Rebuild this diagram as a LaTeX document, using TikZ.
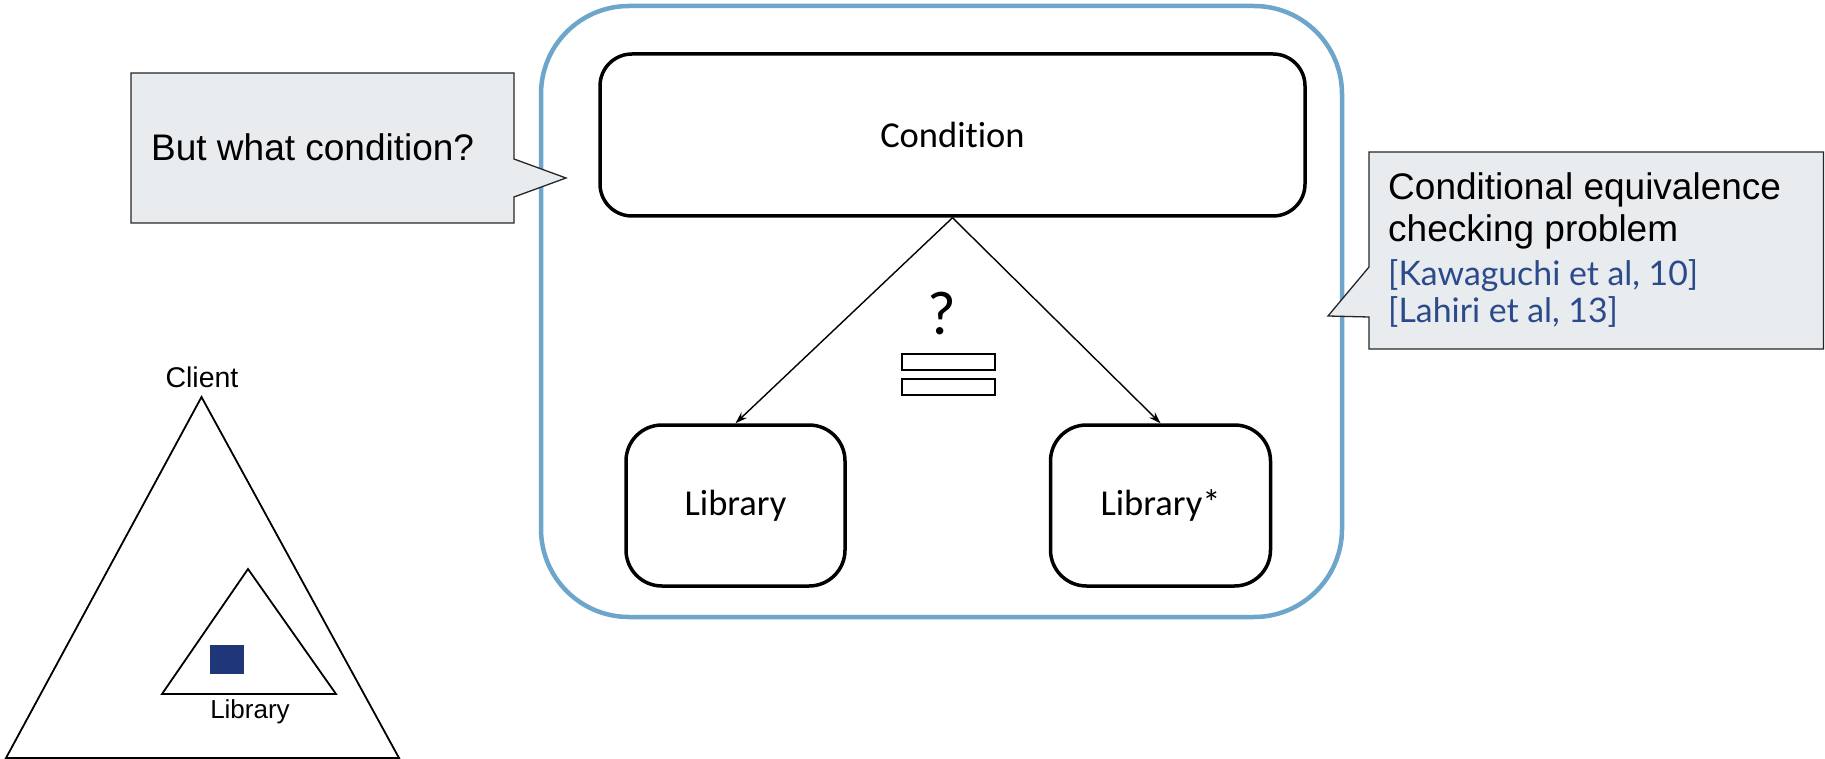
\documentclass[tikz,border=0pt]{standalone}
\usepackage{fontspec}
\setmainfont{Liberation Sans}
\newfontfamily\calib[Ligatures={NoCommon,NoContextual}]{Carlito}
\newfontfamily\latofam{Lato}
\usetikzlibrary{arrows.meta}
\definecolor{frameblue}{HTML}{6DA5CB}
\definecolor{calloutfill}{HTML}{E9ECEE}
\definecolor{citeblue}{HTML}{2B4A8C}
\definecolor{navy}{HTML}{1F3778}
\newlength\citewidth
\begin{document}
% size the reference lines so the first one spans 310pt
\settowidth\citewidth{\latofam\fontsize{10}{12}\selectfont [Kawaguchi et al, 10]}
\pgfmathsetmacro\citesize{10*310/\citewidth}
\begin{tikzpicture}[x=1pt,y=-1pt,
  box/.style={draw=black, line width=3.5pt, fill=white, inner sep=0pt,
    font=\calib\fontsize{36.5}{44}\selectfont},
  callout/.style={draw=black!85, line width=1.3pt, fill=calloutfill, line join=miter},
  sans/.style={inner sep=0pt, font=\fontsize{37}{44}\selectfont},
  cite/.style={inner sep=0pt, text=citeblue, font=\latofam\fontsize{\citesize}{36}\selectfont},
  flow/.style={line width=1.4pt, -{Stealth[length=12pt,width=8pt]}},
  bar/.style={draw=black, line width=2pt, fill=white, inner sep=0pt,
    minimum width=93pt, minimum height=16pt},
  tri/.style={draw=black, line width=1.8pt, line join=miter}
]
\useasboundingbox (0,0) rectangle (1825,759);

% outer frame
\node[draw=frameblue, line width=4.5pt, rounded corners=88pt, inner sep=0pt,
  minimum width=801pt, minimum height=611pt] (frame) at (941.5,311.5) {};

% condition and the two library versions
\node[box, rounded corners=32pt, minimum width=705pt, minimum height=162pt]
  (cond) at (952.5,135) {Condition};
\node[box, rounded corners=36pt, minimum width=219pt, minimum height=161pt]
  (lib) at (735.5,505.5) {Library};
\node[box, rounded corners=36pt, minimum width=220pt, minimum height=161pt]
  (libstar) at (1160.5,505.5) {Library*};

\draw[flow] (cond.south) -- (lib.north);
\draw[flow] (cond.south) -- (libstar.north);

% question mark over an equals sign
\node[inner sep=0pt, font=\calib\fontsize{62}{70}\selectfont] (q) at (942,314) {?};
\node[bar] (eqtop) at (948,361.5) {};
\node[bar] (eqbot) at (948,386.5) {};

% left callout
\draw[callout] (131,73) -- (514,73) -- (514,159) -- (566,178) -- (514,197)
  -- (514,223) -- (131,223) -- cycle;
\node[sans, anchor=base west] (ask) at (151,161) {But what condition?};

% right callout
\draw[callout] (1369,152) -- (1823.5,152) -- (1823.5,349) -- (1369,349)
  -- (1369,317) -- (1328,316) -- (1369,267) -- cycle;
\node[sans, anchor=base west] (ce1) at (1388,200) {Conditional equivalence};
\node[sans, anchor=base west] (ce2) at (1388,242) {checking problem};
\node[cite, anchor=base west] (ref1) at (1388,285) {[Kawaguchi et al, 10]};
\node[cite, anchor=base west] (ref2) at (1388,322) {[Lahiri et al, 13]};

% client / library triangles
\draw[tri] (201.5,397) -- (399,758) -- (6,758) -- cycle;
\draw[tri] (248,569) -- (336,694) -- (162,694) -- cycle;
\fill[navy] (210,645) rectangle (244,674);
\node[inner sep=0pt, anchor=base, font=\fontsize{28.5}{34}\selectfont] (client) at (202,387) {Client};
\node[inner sep=0pt, anchor=base, font=\fontsize{26}{31}\selectfont] (libsmall) at (250,718) {Library};
\end{tikzpicture}
\end{document}
